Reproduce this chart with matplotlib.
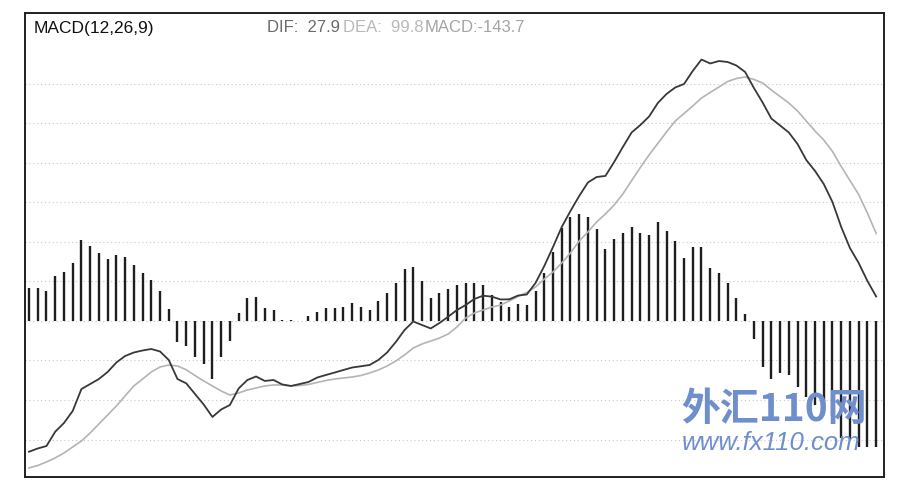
import numpy as np
import matplotlib
matplotlib.use("Agg")
import matplotlib.pyplot as plt

plt.rcParams['font.family'] = ['Liberation Sans', 'Noto Sans CJK SC', 'DejaVu Sans']

# MACD(12,26,9) values, one per bar
dif = [-148.9, -145.2, -142.4, -126.1, -116.2, -102.5, -77.5, -71.8, -66.1, -58.1,
       -47.3, -39.9, -35.9, -33.6, -31.9, -34.7, -44.4, -66.1, -71.0, -83.1,
       -95.1, -109.3, -100.8, -95.7, -76.9, -67.2, -63.2, -68.3, -67.2, -72.3,
       -74.0, -71.8, -69.5, -64.4, -61.5, -58.7, -55.8, -53.0, -51.6, -50.1,
       -44.4, -35.9, -23.9, -10.3, -0.6, -4.6, -8.5, -2.3, 4.9, 12.5,
       18.2, 25.1, 28.8, 27.7, 24.5, 24.7, 29.0, 30.2, 43.3, 62.6,
       84.3, 107.1, 125.3, 142.4, 157.8, 164.0, 165.2, 181.1, 198.2, 214.7,
       223.2, 232.9, 248.3, 258.6, 266.0, 269.9, 284.8, 297.8, 293.3, 296.1,
       295.0, 291.0, 283.6, 265.4, 248.9, 230.6, 222.7, 214.7, 201.6, 183.4,
       170.9, 156.0, 135.5, 107.1, 83.1, 66.1, 45.6, 27.9]

dea = [-167.4, -164.6, -160.6, -156.0, -150.3, -143.5, -136.7, -127.6, -117.3, -107.1,
       -96.8, -85.4, -74.0, -66.1, -58.1, -52.4, -50.1, -51.3, -55.5, -62.1,
       -68.3, -74.0, -79.7, -84.3, -82.0, -78.6, -76.3, -74.0, -72.9, -72.9,
       -74.0, -73.5, -72.3, -70.0, -67.8, -66.1, -64.9, -63.8, -62.1, -59.2,
       -55.8, -51.3, -45.6, -38.7, -30.8, -26.2, -22.8, -19.4, -14.8, -6.8,
       3.4, 9.1, 12.5, 15.9, 18.2, 22.8, 27.9, 32.5, 38.7, 47.8,
       55.8, 66.1, 77.5, 91.1, 101.4, 112.8, 121.9, 132.1, 144.7, 159.9,
       174.8, 189.1, 202.2, 215.3, 227.8, 236.3, 244.9, 254.0, 260.3, 266.5,
       272.8, 276.2, 277.9, 275.1, 271.1, 263.1, 255.7, 248.3, 239.2, 227.8,
       216.4, 206.2, 193.1, 176.0, 160.0, 144.1, 123.0, 99.8]

macd = [37.6, 37.6, 34.2, 51.3, 55.8, 66.1, 92.3, 85.4, 77.5, 70.6,
        75.2, 72.9, 63.8, 54.7, 46.7, 34.2, 13.7, -23.9, -28.5, -41.0,
        -49.0, -66.1, -41.0, -22.8, 9.1, 26.2, 27.3, 14.8, 12.5, 1.5,
        1.5, 0.0, 5.7, 10.3, 14.8, 14.8, 15.9, 20.5, 15.9, 12.5,
        22.8, 31.9, 43.3, 59.2, 61.5, 45.6, 26.2, 31.9, 36.4, 41.0,
        43.3, 43.3, 41.0, 29.6, 21.6, 15.9, 19.4, 18.2, 34.2, 54.7,
        78.6, 105.9, 118.5, 121.9, 118.5, 104.8, 82.0, 93.4, 100.2, 107.1,
        100.2, 98.0, 112.8, 102.5, 91.1, 71.8, 84.3, 84.3, 60.4, 54.7,
        43.3, 26.2, 8.0, -20.5, -52.4, -66.1, -59.2, -61.5, -75.2, -86.6,
        -95.7, -93.4, -108.2, -133.3, -134.4, -143.5, -143.5, -143.7]

grid_levels = [-135, -90, -45, 0, 45, 90, 135, 180, 225, 270]

x = np.arange(len(macd))

fig = plt.figure(figsize=(9.24, 5.04), dpi=100)
ax = fig.add_axes([25 / 924, 27 / 504, 859 / 924, 464 / 504])

for g in grid_levels:
    ax.axhline(g, color='#c8c8c8', lw=0.8, ls=(0, (1, 2.5)), zorder=0)

ax.vlines(x, 0, macd, color='#1e1e1e', lw=1.7, zorder=2)
ax.plot(x, dea, color='#b4b4b4', lw=1.2, zorder=3)
ax.plot(x, dif, color='#383838', lw=1.3, zorder=4)

ax.set_xlim(-0.46, 97.9)
ax.set_ylim(-177.7, 350.8)
ax.set_xticks([])
ax.set_yticks([])
for s in ax.spines.values():
    s.set_linewidth(1.4)
    s.set_color('#202020')

fig.text(34 / 924, 1 - 28 / 504, 'MACD(12,26,9)', fontsize=12.5, color='#111111', va='center')
fig.text(267 / 924, 1 - 28 / 504, f'DIF:  {dif[-1]}', fontsize=12, color='#6a6a6a', va='center')
fig.text(343 / 924, 1 - 28 / 504, f'DEA:  {dea[-1]}', fontsize=12, color='#b8b8b8', va='center')
fig.text(425 / 924, 1 - 28 / 504, f'MACD:{macd[-1]}', fontsize=12, color='#a4a4a4', va='center')

# watermark
fig.text(774 / 924, 1 - 410 / 504, '外汇110网', fontsize=28, color='#6f8fcc', fontweight='bold',
         style='italic', ha='center', va='center', family=['Noto Sans CJK SC', 'DejaVu Sans'], zorder=10)
fig.text(771 / 924, 1 - 443 / 504, 'www.fx110.com', fontsize=18.5, color='#6f8fcc',
         style='italic', ha='center', va='center', zorder=10)

fig.savefig('out.png', dpi=100)
